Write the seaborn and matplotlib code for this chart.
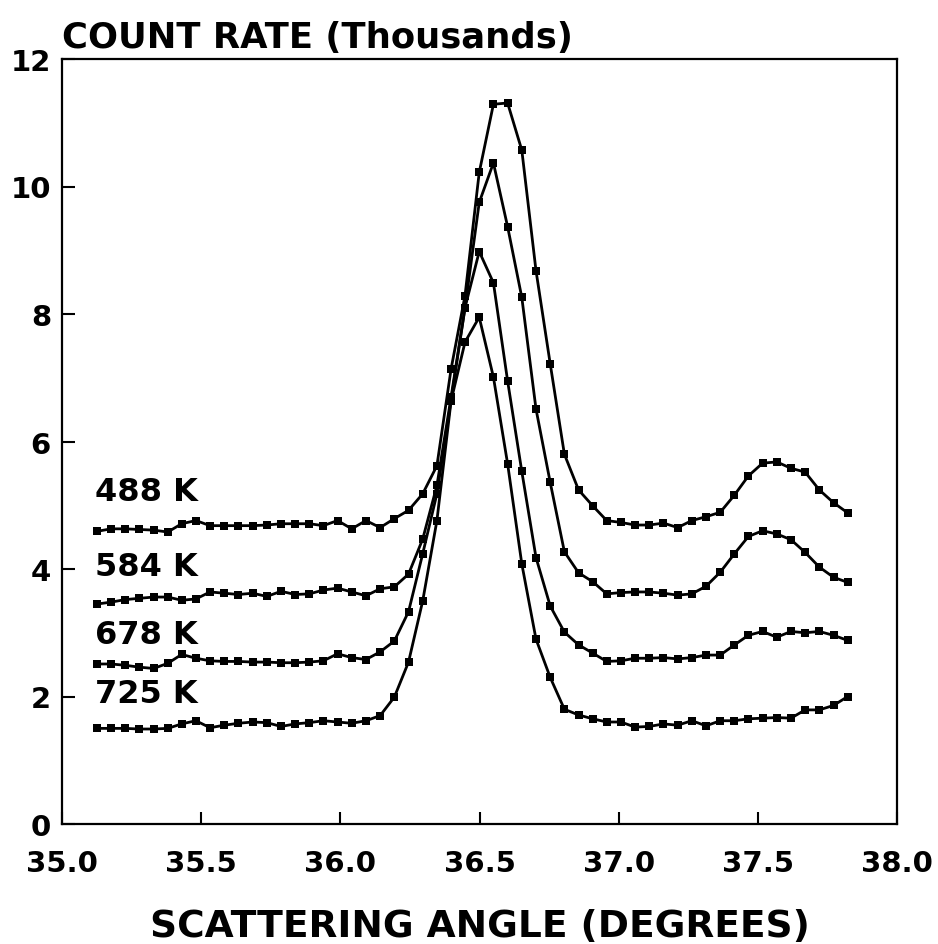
import matplotlib
matplotlib.use("Agg")
import pandas as pd
import seaborn as sns
import matplotlib.pyplot as plt

# scattering angle of each scan step (degrees)
angle = [35.125, 35.176, 35.227, 35.278, 35.329, 35.380, 35.430, 35.481, 35.532, 35.583,
         35.634, 35.685, 35.736, 35.787, 35.838, 35.889, 35.939, 35.990, 36.041, 36.092,
         36.143, 36.194, 36.245, 36.296, 36.347, 36.398, 36.448, 36.499, 36.550, 36.601,
         36.652, 36.703, 36.754, 36.805, 36.856, 36.907, 36.957, 37.008, 37.059, 37.110,
         37.161, 37.212, 37.263, 37.314, 37.365, 37.416, 37.466, 37.517, 37.568, 37.619,
         37.670, 37.721, 37.772, 37.823]

# count rate, thousands
rate_488 = [4.59, 4.63, 4.63, 4.62, 4.61, 4.58, 4.71, 4.76, 4.68, 4.68,
            4.68, 4.68, 4.69, 4.71, 4.71, 4.71, 4.68, 4.76, 4.63, 4.76,
            4.65, 4.79, 4.92, 5.18, 5.62, 7.14, 8.29, 10.22, 11.29, 11.31,
            10.57, 8.68, 7.22, 5.80, 5.24, 4.99, 4.76, 4.73, 4.69, 4.69,
            4.72, 4.65, 4.76, 4.82, 4.89, 5.16, 5.46, 5.66, 5.68, 5.58,
            5.52, 5.24, 5.04, 4.88]
rate_584 = [3.45, 3.48, 3.52, 3.54, 3.56, 3.56, 3.51, 3.53, 3.64, 3.62,
            3.60, 3.62, 3.57, 3.65, 3.60, 3.61, 3.67, 3.70, 3.64, 3.58,
            3.69, 3.72, 3.92, 4.47, 5.31, 6.70, 8.10, 9.75, 10.37, 9.37,
            8.26, 6.51, 5.36, 4.27, 3.94, 3.80, 3.61, 3.63, 3.64, 3.64,
            3.62, 3.59, 3.61, 3.73, 3.95, 4.24, 4.51, 4.60, 4.55, 4.46,
            4.26, 4.03, 3.87, 3.79]
rate_678 = [2.51, 2.51, 2.49, 2.46, 2.44, 2.52, 2.66, 2.60, 2.56, 2.55,
            2.55, 2.54, 2.54, 2.53, 2.53, 2.54, 2.56, 2.67, 2.61, 2.58,
            2.70, 2.87, 3.33, 4.24, 5.18, 6.65, 8.10, 8.98, 8.49, 6.95,
            5.53, 4.18, 3.42, 3.01, 2.81, 2.68, 2.55, 2.56, 2.60, 2.60,
            2.61, 2.59, 2.61, 2.65, 2.65, 2.81, 2.96, 3.02, 2.93, 3.02,
            3.00, 3.02, 2.96, 2.88]
rate_725 = [1.50, 1.50, 1.50, 1.49, 1.49, 1.50, 1.57, 1.62, 1.51, 1.55,
            1.58, 1.60, 1.59, 1.53, 1.57, 1.59, 1.62, 1.60, 1.58, 1.62,
            1.70, 1.99, 2.54, 3.50, 4.76, 6.64, 7.56, 7.95, 7.01, 5.65,
            4.08, 2.90, 2.30, 1.80, 1.71, 1.65, 1.60, 1.60, 1.52, 1.53,
            1.57, 1.55, 1.62, 1.54, 1.62, 1.62, 1.65, 1.66, 1.67, 1.66,
            1.79, 1.79, 1.86, 2.00]

temps = ["488 K", "584 K", "678 K", "725 K"]
label_y = [5.22, 4.04, 2.98, 2.04]
series = [rate_488, rate_584, rate_678, rate_725]

sns.set_style("ticks")
plt.rcParams["font.family"] = ["DejaVu Sans"]
plt.rcParams["font.weight"] = "bold"
for key in ["text.color", "axes.labelcolor", "xtick.color", "ytick.color", "axes.edgecolor"]:
    plt.rcParams[key] = "black"

fig = plt.figure(figsize=(9.38, 9.45), dpi=100)
ax = fig.add_axes([62 / 938, 120 / 945, 835 / 938, 765 / 945])

for temp, rate, ly in zip(temps, series, label_y):
    df = pd.DataFrame({"angle": angle, "rate": rate})
    sns.lineplot(data=df, x="angle", y="rate", ax=ax, color="black",
                 linewidth=2.0, marker="s", markersize=6, markeredgewidth=0)
    ax.text(35.12, ly, temp, fontsize=23, fontweight="bold", va="center", ha="left")

ax.set_xlim(35.0, 38.0)
ax.set_ylim(0, 12)
ax.set_xticks([35.0, 35.5, 36.0, 36.5, 37.0, 37.5, 38.0])
ax.set_xticklabels(["35.0", "35.5", "36.0", "36.5", "37.0", "37.5", "38.0"])
ax.set_yticks([0, 2, 4, 6, 8, 10, 12])
ax.set_yticklabels(["0", "2", "4", "6", "8", "10", "12"])
ax.tick_params(axis="both", direction="in", length=9, width=1.5,
               labelsize=21, color="black", labelcolor="black")
ax.tick_params(axis="x", pad=18)
ax.tick_params(axis="y", pad=8)
for lab in ax.get_xticklabels() + ax.get_yticklabels():
    lab.set_fontweight("bold")
for sp in ax.spines.values():
    sp.set_visible(True)
    sp.set_linewidth(1.6)
    sp.set_color("black")

ax.set_xlabel("SCATTERING ANGLE (DEGREES)", fontsize=27, fontweight="bold",
              labelpad=22, color="black")
ax.set_ylabel("")
fig.text(62 / 938, 1 - 48 / 945, "COUNT RATE (Thousands)", fontsize=25.5,
         fontweight="bold", ha="left", va="baseline", color="black")

fig.savefig("out.png", dpi=100)
